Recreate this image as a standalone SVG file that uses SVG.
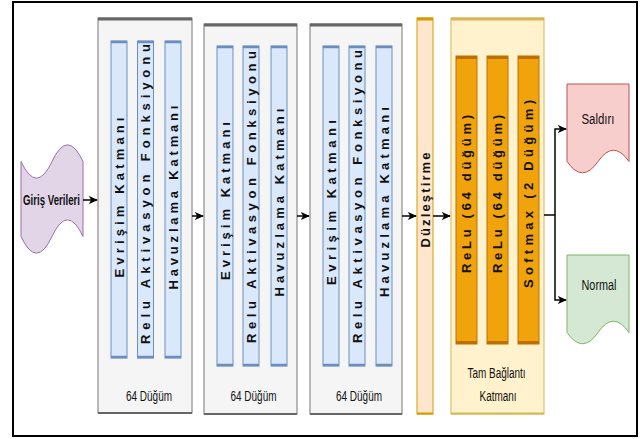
<svg xmlns="http://www.w3.org/2000/svg" width="640" height="439" viewBox="0 0 640 439">
<defs>
<marker id="arr" markerUnits="userSpaceOnUse" markerWidth="9" markerHeight="9" viewBox="0 0 10 10" refX="9" refY="5" orient="auto">
<path d="M0,0.5 L10,5 L0,9.5 L2.5,5 Z" fill="#000"/>
</marker>
</defs>
<style>
.blk{fill:#f5f5f5;stroke:#777;stroke-width:1}
.blkTop{stroke:#666;stroke-width:3}
.bar{fill:#dae8fc;stroke:#6c8ebf;stroke-width:1}
.barEdge{stroke:#6c8ebf;stroke-width:2.5}
.obar{fill:#f0a30a;stroke:#bd7000;stroke-width:1}
.obarEdge{stroke:#bd7000;stroke-width:3}
.vt{font-family:"Liberation Sans",Arial,sans-serif;font-weight:bold;font-size:13px;fill:#111;text-anchor:middle;dominant-baseline:central}
.lbl{font-family:"Liberation Sans",Arial,sans-serif;font-size:14px;fill:#111;text-anchor:middle}
.con{fill:none;stroke:#000;stroke-width:1.5}
</style>
<rect x="13" y="2" width="624" height="434" fill="#fff" stroke="#000" stroke-width="2"/>

<g id="input">
<path d="M21,161.5 Q36.5,194.8 52,161.5 Q67.5,128.2 83,161.5 L83,236.5 Q67.5,203.2 52,236.5 Q36.5,269.8 21,236.5 Z" fill="#e1d5e7" stroke="#9673a6" stroke-width="1"/>
<text class="lbl" x="51.5" y="205" font-size="12" font-weight="bold" textLength="57" lengthAdjust="spacingAndGlyphs">Giriş Verileri</text>
</g>

<g id="block1">
<rect class="blk" x="98" y="18" width="94" height="395"/>
<line class="blkTop" x1="98" y1="19" x2="192" y2="19"/>
<line x1="98" y1="413" x2="192" y2="413" stroke="#666" stroke-width="2"/>
<rect class="bar" x="111" y="41" width="16" height="317"/>
<line class="barEdge" x1="111" y1="42" x2="127" y2="42"/><line class="barEdge" x1="111" y1="357" x2="127" y2="357"/>
<rect class="bar" x="137.5" y="41" width="16" height="317"/>
<line class="barEdge" x1="137.5" y1="42" x2="153.5" y2="42"/><line class="barEdge" x1="137.5" y1="357" x2="153.5" y2="357"/>
<rect class="bar" x="165" y="41" width="16" height="317"/>
<line class="barEdge" x1="165" y1="42" x2="181" y2="42"/><line class="barEdge" x1="165" y1="357" x2="181" y2="357"/>
<text class="vt" transform="translate(119,197.5) rotate(-90)" textLength="160" lengthAdjust="spacing">Evrişim Katmanı</text>
<text class="vt" transform="translate(145.5,194) rotate(-90)" textLength="300" lengthAdjust="spacing">Relu Aktivasyon Fonksiyonu</text>
<text class="vt" transform="translate(173,197.5) rotate(-90)" textLength="184" lengthAdjust="spacing">Havuzlama Katmanı</text>
<text class="lbl" x="149" y="401" textLength="46" lengthAdjust="spacingAndGlyphs">64 Düğüm</text>
</g>

<g id="block2">
<rect class="blk" x="204" y="24" width="93" height="390"/>
<line class="blkTop" x1="204" y1="25" x2="297" y2="25"/>
<line x1="204" y1="414" x2="297" y2="414" stroke="#666" stroke-width="2"/>
<rect class="bar" x="217" y="46" width="16" height="320"/>
<line class="barEdge" x1="217" y1="47" x2="233" y2="47"/><line class="barEdge" x1="217" y1="365" x2="233" y2="365"/>
<rect class="bar" x="243" y="46" width="16" height="320"/>
<line class="barEdge" x1="243" y1="47" x2="259" y2="47"/><line class="barEdge" x1="243" y1="365" x2="259" y2="365"/>
<rect class="bar" x="271" y="46" width="16" height="320"/>
<line class="barEdge" x1="271" y1="47" x2="287" y2="47"/><line class="barEdge" x1="271" y1="365" x2="287" y2="365"/>
<text class="vt" transform="translate(225,201) rotate(-90)" textLength="158" lengthAdjust="spacing">Evrişim Katmanı</text>
<text class="vt" transform="translate(251,197) rotate(-90)" textLength="292" lengthAdjust="spacing">Relu Aktivasyon Fonksiyonu</text>
<text class="vt" transform="translate(279,202.5) rotate(-90)" textLength="188" lengthAdjust="spacing">Havuzlama Katmanı</text>
<text class="lbl" x="253.5" y="401" textLength="46" lengthAdjust="spacingAndGlyphs">64 Düğüm</text>
</g>

<g id="block3">
<rect class="blk" x="310" y="24" width="92" height="390"/>
<line class="blkTop" x1="310" y1="25" x2="402" y2="25"/>
<line x1="310" y1="414" x2="402" y2="414" stroke="#666" stroke-width="2"/>
<rect class="bar" x="323" y="46" width="16" height="320"/>
<line class="barEdge" x1="323" y1="47" x2="339" y2="47"/><line class="barEdge" x1="323" y1="365" x2="339" y2="365"/>
<rect class="bar" x="349" y="46" width="16" height="320"/>
<line class="barEdge" x1="349" y1="47" x2="365" y2="47"/><line class="barEdge" x1="349" y1="365" x2="365" y2="365"/>
<rect class="bar" x="376" y="46" width="16" height="320"/>
<line class="barEdge" x1="376" y1="47" x2="392" y2="47"/><line class="barEdge" x1="376" y1="365" x2="392" y2="365"/>
<text class="vt" transform="translate(331,202.5) rotate(-90)" textLength="165" lengthAdjust="spacing">Evrişim Katmanı</text>
<text class="vt" transform="translate(357,196.5) rotate(-90)" textLength="293" lengthAdjust="spacing">Relu Aktivasyon Fonksiyonu</text>
<text class="vt" transform="translate(384,202) rotate(-90)" textLength="190" lengthAdjust="spacing">Havuzlama Katmanı</text>
<text class="lbl" x="359" y="401" textLength="46" lengthAdjust="spacingAndGlyphs">64 Düğüm</text>
</g>

<g id="flatten">
<rect x="417" y="18" width="16" height="396" fill="#ffe6cc" stroke="#d79b00" stroke-width="1"/>
<line x1="417" y1="19" x2="433" y2="19" stroke="#d79b00" stroke-width="3"/>
<line x1="417" y1="413.5" x2="433" y2="413.5" stroke="#d79b00" stroke-width="2"/>
<text class="vt" transform="translate(425,200) rotate(-90)" textLength="95" lengthAdjust="spacing">Düzleştirme</text>
</g>

<g id="dense">
<rect x="451" y="18" width="93" height="396" fill="#fff2cc" stroke="#d6b656" stroke-width="1"/>
<line x1="451" y1="19" x2="544" y2="19" stroke="#d6b656" stroke-width="3"/>
<line x1="451" y1="413.5" x2="544" y2="413.5" stroke="#d6b656" stroke-width="2"/>
<rect class="obar" x="456" y="56" width="21" height="288"/>
<line class="obarEdge" x1="456" y1="57.5" x2="477" y2="57.5"/><line class="obarEdge" x1="456" y1="342.5" x2="477" y2="342.5"/>
<rect class="obar" x="487" y="56" width="21" height="288"/>
<line class="obarEdge" x1="487" y1="57.5" x2="508" y2="57.5"/><line class="obarEdge" x1="487" y1="342.5" x2="508" y2="342.5"/>
<rect class="obar" x="518" y="56" width="21" height="288"/>
<line class="obarEdge" x1="518" y1="57.5" x2="539" y2="57.5"/><line class="obarEdge" x1="518" y1="342.5" x2="539" y2="342.5"/>
<text class="vt" transform="translate(466.5,194) rotate(-90)" textLength="158" lengthAdjust="spacing">ReLu (64 düğüm)</text>
<text class="vt" transform="translate(497.5,194) rotate(-90)" textLength="158" lengthAdjust="spacing">ReLu (64 düğüm)</text>
<text class="vt" transform="translate(528.5,194) rotate(-90)" textLength="188" lengthAdjust="spacing">Softmax (2 Düğüm)</text>
<text class="lbl" x="496.5" y="378" textLength="58" lengthAdjust="spacingAndGlyphs">Tam Bağlantı</text>
<text class="lbl" x="498" y="401" textLength="37" lengthAdjust="spacingAndGlyphs">Katmanı</text>
</g>

<g id="saldiri">
<path d="M567,84 H629 V161.5 Q613.5,139 598,161.5 Q582.5,184 567,161.5 Z" fill="#f8cecc" stroke="#b85450" stroke-width="1"/>
<text class="lbl" x="598" y="124" textLength="33" lengthAdjust="spacingAndGlyphs">Saldırı</text>
</g>

<g id="normal">
<path d="M567,255 H629 V332.5 Q613.5,310 598,332.5 Q582.5,355 567,332.5 Z" fill="#d5e8d4" stroke="#82b366" stroke-width="1"/>
<text class="lbl" x="599" y="290" textLength="35" lengthAdjust="spacingAndGlyphs">Normal</text>
</g>

<g id="connectors">
<line class="con" x1="83" y1="200" x2="97" y2="200" marker-end="url(#arr)"/>
<line class="con" x1="192" y1="216" x2="203" y2="216" marker-end="url(#arr)"/>
<line class="con" x1="297" y1="216" x2="309" y2="216" marker-end="url(#arr)"/>
<line class="con" x1="402" y1="216" x2="416" y2="216" marker-end="url(#arr)"/>
<line class="con" x1="433" y1="216" x2="450" y2="216" marker-end="url(#arr)"/>
<line class="con" x1="544" y1="215" x2="555" y2="215"/>
<polyline class="con" points="555,215 555,129 566,129" marker-end="url(#arr)"/>
<polyline class="con" points="555,215 555,300 566,300" marker-end="url(#arr)"/>
</g>
</svg>
